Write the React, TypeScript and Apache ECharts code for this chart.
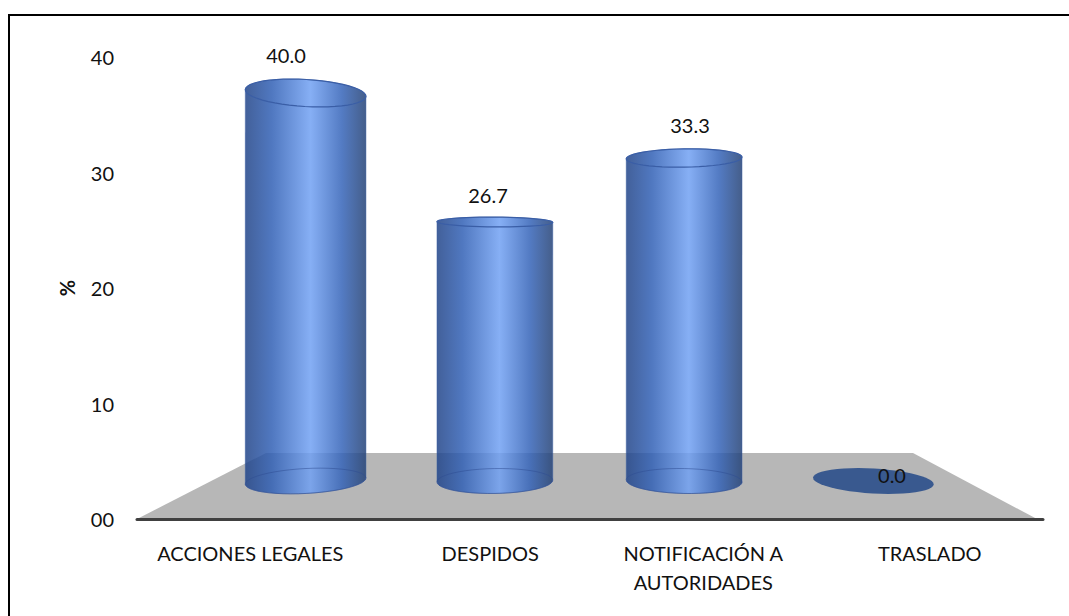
import React, { useEffect, useRef } from "react";
import * as echarts from "echarts";

const categories = ["ACCIONES LEGALES", "DESPIDOS", "NOTIFICACIÓN A\nAUTORIDADES", "TRASLADO"];
const values = [40.0, 26.7, 33.3, 0.0];
const axisMin = 0;
const axisMax = 40;
const axisStep = 10;
const yAxisTitle = "%";

const FONT = "Lato, Carlito, 'Open Sans', sans-serif";
const HORIZON_Y = 295;
const VANISH_X = 580;

const bodyGradient = () =>
  new echarts.graphic.LinearGradient(0, 0, 1, 0, [
    { offset: 0, color: "rgba(33,68,136,0.85)" },
    { offset: 0.22, color: "rgba(49,96,181,0.85)" },
    { offset: 0.54, color: "rgba(113,161,243,0.85)" },
    { offset: 0.8, color: "rgba(53,100,185,0.85)" },
    { offset: 1, color: "rgba(36,66,118,0.85)" },
  ]);

const perspective = (cx: number, y: number) => {
  const ry = Math.abs(y - HORIZON_Y) * 0.067;
  const deg = (cx - VANISH_X) * (y - HORIZON_Y) * 6e-5;
  return { ry, rad: (deg * Math.PI) / 180 };
};

// One point of a tilted ellipse; t runs in radians, t = 0 is the right end.
const ellipsePoint = (cx: number, cy: number, rx: number, p: any, t: number) => {
  const ex = rx * Math.cos(t);
  const ey = p.ry * Math.sin(t);
  return [cx + ex * Math.cos(p.rad) - ey * Math.sin(p.rad), cy + ex * Math.sin(p.rad) + ey * Math.cos(p.rad)];
};

const renderCylinder = (_p: any, api: any) => {
  const value = api.value(1);
  const [cx, yTop] = api.coord([api.value(0), value]);
  const [, yBase] = api.coord([api.value(0), 0]);
  const rx = api.size([1, 0])[0] * 0.306 + 0.0145 * Math.max(0, Math.abs(cx - 590) - 110);
  const b = perspective(cx, yBase);
  const STEPS = 48;
  const ring = (y: number, p: any) =>
    Array.from({ length: STEPS }, (_, k) => ellipsePoint(cx, y, rx, p, (k / STEPS) * 2 * Math.PI));
  if (value === 0) {
    return { type: "polygon", shape: { points: ring(yBase, b) }, style: { fill: "#39598f" } };
  }
  const t = perspective(cx, yTop);
  const outline: number[][] = [];
  for (let k = 0; k <= STEPS / 2; k++) outline.push(ellipsePoint(cx, yBase, rx, b, (k / (STEPS / 2)) * Math.PI));
  for (let k = 0; k <= STEPS / 2; k++) outline.push(ellipsePoint(cx, yTop, rx, t, Math.PI + (k / (STEPS / 2)) * Math.PI));
  return {
    type: "group",
    children: [
      {
        type: "polygon",
        shape: { points: outline },
        style: { fill: bodyGradient(), stroke: "rgba(60,95,165,0.45)", lineWidth: 1 },
      },
      {
        type: "polygon",
        shape: { points: ring(yBase, b) },
        style: { fill: "none", stroke: "rgba(45,75,145,0.5)", lineWidth: 1 },
      },
      {
        type: "polygon",
        shape: { points: ring(yTop, t) },
        style: { fill: "none", stroke: "#3a5ea6", lineWidth: 1.2 },
      },
    ],
  };
};

const renderLabel = (_p: any, api: any) => {
  const [x, y] = api.coord([api.value(0), api.value(1)]);
  return {
    type: "text",
    x,
    y,
    style: {
      text: api.value(1).toFixed(1),
      fill: "#111",
      font: `20px ${FONT}`,
      align: "center",
      verticalAlign: "middle",
    },
  };
};

export default function App() {
  const ref = useRef<HTMLDivElement>(null);
  useEffect(() => {
    const chart = echarts.init(ref.current!, null, { renderer: "svg" });
    const points = values.map((v, i) => [i, v]);
    chart.setOption({
      animation: false,
      backgroundColor: "#fff",
      grid: [
        { left: 137, right: 26, top: 57, bottom: 97 },
        { left: 211, right: 101, top: 93, bottom: 135 },
        { left: 185, right: 76, top: 55, bottom: 141 },
      ],
      xAxis: [
        {
          gridIndex: 0,
          type: "category",
          data: categories,
          z: 5,
          axisLine: { show: true, lineStyle: { color: "#404040", width: 3 } },
          axisTick: { show: false },
          axisLabel: {
            interval: 0,
            margin: 19,
            color: "#111",
            fontFamily: FONT,
            fontSize: 20,
            lineHeight: 29,
            formatter: (v: string) => (v === "DESPIDOS" ? `{s|${v}}` : v),
            rich: { s: { padding: [0, 0, 0, 27], fontFamily: FONT, fontSize: 20, color: "#111", lineHeight: 29 } },
          },
        },
        { gridIndex: 1, type: "category", data: categories, show: false },
        { gridIndex: 2, type: "category", data: categories, show: false },
      ],
      yAxis: [
        {
          gridIndex: 0,
          type: "value",
          min: axisMin,
          max: axisMax,
          interval: axisStep,
          name: yAxisTitle,
          nameLocation: "middle",
          nameGap: 60,
          nameRotate: 90,
          nameTextStyle: { fontFamily: FONT, fontSize: 20, fontWeight: "bold", color: "#111" },
          axisLine: { show: false },
          axisTick: { show: false },
          splitLine: { show: false },
          axisLabel: {
            margin: 23,
            color: "#111",
            fontFamily: FONT,
            fontSize: 20,
            formatter: (v: number) => (v === 0 ? "00" : String(v)),
          },
        },
        { gridIndex: 1, type: "value", min: axisMin, max: axisMax, show: false },
        { gridIndex: 2, type: "value", min: axisMin, max: axisMax, show: false },
      ],
      graphic: [
        {
          type: "polygon",
          z: -1,
          silent: true,
          shape: { points: [[137, 519], [266, 453], [913, 453], [1037, 519]] },
          style: { fill: "#b7b7b7" },
        },
        {
          type: "polyline",
          silent: true,
          shape: { points: [[9, 616], [9, 15], [1069, 15]] },
          style: { fill: "none", stroke: "#000", lineWidth: 2 },
        },
      ],
      series: [
        {
          type: "custom",
          xAxisIndex: 1,
          yAxisIndex: 1,
          z: 10,
          clip: false,
          silent: true,
          renderItem: renderCylinder,
          data: points,
        },
        {
          type: "custom",
          xAxisIndex: 2,
          yAxisIndex: 2,
          z: 12,
          clip: false,
          silent: true,
          renderItem: renderLabel,
          data: points,
        },
      ],
    });
    return () => chart.dispose();
  }, []);
  return (
    <div
      ref={ref}
      style={{ position: "absolute", left: 0, top: 0, width: 1069, height: 616 }}
    />
  );
}
